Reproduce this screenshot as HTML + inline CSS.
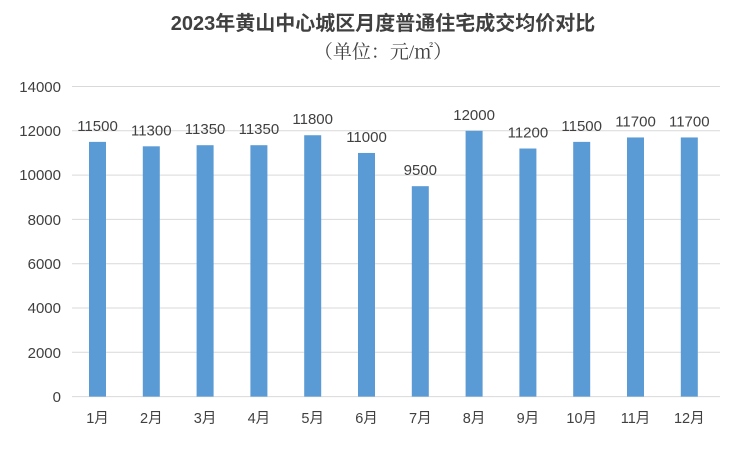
<!DOCTYPE html>
<html><head><meta charset="utf-8"><style>
body{margin:0;background:#fff}
svg text{font-family:"Liberation Sans","Noto Sans CJK SC",sans-serif;fill:#404040}
svg text.serif{font-family:"Liberation Serif","Noto Serif CJK SC",serif}
</style></head><body>
<svg width="740" height="445" viewBox="0 0 740 445" xmlns="http://www.w3.org/2000/svg">
<rect width="740" height="445" fill="#fff"/>
<text x="383" y="30" font-size="20" font-weight="bold" text-anchor="middle">2023年黄山中心城区月度普通住宅成交均价对比</text>
<text class="serif" x="383" y="58" font-size="19" text-anchor="middle">（单位：元/㎡）</text>
<g stroke="#d9d9d9" stroke-width="1">
<line x1="72" x2="720" y1="86.5" y2="86.5"/>
<line x1="72" x2="720" y1="130.8" y2="130.8"/>
<line x1="72" x2="720" y1="175.1" y2="175.1"/>
<line x1="72" x2="720" y1="219.4" y2="219.4"/>
<line x1="72" x2="720" y1="263.7" y2="263.7"/>
<line x1="72" x2="720" y1="308" y2="308"/>
<line x1="72" x2="720" y1="352.3" y2="352.3"/>
<line x1="72" x2="720" y1="396.6" y2="396.6"/>
</g>
<g font-size="15" text-anchor="end">
<text x="61" y="92">14000</text><text x="61" y="136">12000</text><text x="61" y="180">10000</text>
<text x="61" y="225">8000</text><text x="61" y="269">6000</text><text x="61" y="313">4000</text>
<text x="61" y="358">2000</text><text x="61" y="402">0</text>
</g>
<g id="bars" fill="#5B9BD5"></g>
<g id="labels" font-size="15" text-anchor="middle"></g>
<g id="cats" font-size="14.5" text-anchor="middle"></g>
<script>
var v=[11500,11300,11350,11350,11800,11000,9500,12000,11200,11500,11700,11700];
var b=document.getElementById('bars'),l=document.getElementById('labels'),c=document.getElementById('cats');
var ns='http://www.w3.org/2000/svg';
v.forEach(function(d,i){
 var cx=97.5+53.8*i, h=d/2000*44.3, y=396.6-h;
 var r=document.createElementNS(ns,'rect');r.setAttribute('x',cx-8.5);r.setAttribute('y',y);r.setAttribute('width',17);r.setAttribute('height',h);b.appendChild(r);
 var t=document.createElementNS(ns,'text');t.setAttribute('x',cx);t.setAttribute('y',y-11);t.textContent=d;l.appendChild(t);
 var k=document.createElementNS(ns,'text');k.setAttribute('x',cx);k.setAttribute('y',423);k.textContent=(i+1)+'月';c.appendChild(k);
});
</script>
</svg>
</body></html>
